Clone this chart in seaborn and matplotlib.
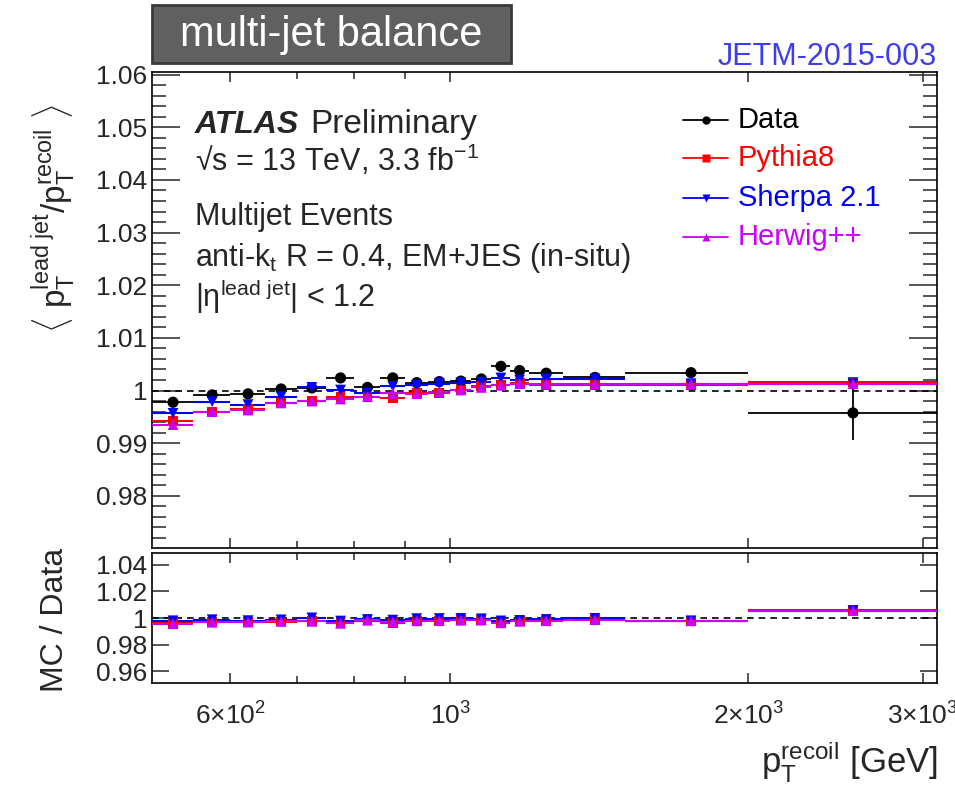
import numpy as np
import pandas as pd
import matplotlib
matplotlib.use("Agg")
import matplotlib.pyplot as plt
import seaborn as sns
from matplotlib.patches import Rectangle
from matplotlib.ticker import FixedLocator, FuncFormatter

# bin edges and centres in pT recoil [GeV]
bin_edges = [500, 550, 600, 650, 700, 750, 800, 850, 900, 950, 1000, 1050,
             1100, 1150, 1200, 1300, 1500, 2000, 3100]
pt_centres = [525, 575, 625, 675, 725, 775, 825, 875, 925, 975, 1025, 1075,
              1125, 1175, 1250, 1400, 1750, 2550]

# <pT lead jet / pT recoil>
data_vals = [0.99778, 0.99917, 0.99937, 1.0003, 1.0005, 1.0024, 1.0006, 1.0024,
             1.0015, 1.0017, 1.0018, 1.0022, 1.0046, 1.0038, 1.0033, 1.0025,
             1.0034, 0.99575]
data_err = [0.0003, 0.0003, 0.0003, 0.0003, 0.0003, 0.0003, 0.0003, 0.0003,
            0.0003, 0.0003, 0.0003, 0.0004, 0.0005, 0.0005, 0.0005, 0.0005,
            0.0009, 0.0051]
pythia_vals = [0.9943, 0.99587, 0.99651, 0.99759, 0.99797, 0.99873, 0.99873, 0.9985,
               0.9995, 0.9996, 1.0002, 1.0008, 1.0011, 1.0015, 1.0011, 1.0011,
               1.0011, 1.0017]
sherpa_vals = [0.99568, 0.9979, 0.99733, 0.99886, 1.0006, 1.0001, 0.9995, 1.0008,
               1.001, 1.0013, 1.0015, 1.0016, 1.0024, 1.002, 1.0022, 1.0022,
               1.0013, 1.0013]
herwig_vals = [0.99352, 0.996, 0.9963, 0.99765, 0.998, 0.9984, 0.99886, 0.9995,
               0.9994, 0.9997, 1.0001, 1.0006, 1.001, 1.0013, 1.0013, 1.0013,
               1.0013, 1.0013]

# MC / Data
ratio_pythia = [0.9965, 0.9967, 0.9971, 0.9973, 0.9975, 0.9963, 0.9981, 0.9961,
                0.9980, 0.9979, 0.9984, 0.9986, 0.9965, 0.9977, 0.9978, 0.9986,
                0.9977, 1.0060]
ratio_sherpa = [0.9979, 0.9987, 0.9980, 0.9986, 1.0001, 0.9977, 0.9989, 0.9984,
                0.9995, 0.9996, 0.9997, 0.9994, 0.9978, 0.9982, 0.9989, 0.9997,
                0.9979, 1.0056]
ratio_herwig = [0.9957, 0.9968, 0.9969, 0.9974, 0.9975, 0.9960, 0.9983, 0.9971,
                0.9979, 0.9980, 0.9983, 0.9984, 0.9964, 0.9975, 0.9980, 0.9988,
                0.9979, 1.0056]

sns.set_style("ticks")
plt.rcParams["font.family"] = ["Liberation Sans", "DejaVu Sans"]
plt.rcParams["mathtext.fontset"] = "custom"
plt.rcParams["mathtext.rm"] = "Liberation Sans"
plt.rcParams["mathtext.it"] = "Liberation Sans:italic"
plt.rcParams["mathtext.bf"] = "Liberation Sans:bold"

RED = "#ff0000"
BLUE = "#0000ff"
MAG = "#cc00ff"

edges = np.array(bin_edges, dtype=float)
x = np.array(pt_centres, dtype=float)
xerr = [x - edges[:-1], edges[1:] - x]

df = pd.DataFrame({"pt": x, "data": data_vals, "pythia": pythia_vals,
                   "sherpa": sherpa_vals, "herwig": herwig_vals,
                   "r_pythia": ratio_pythia, "r_sherpa": ratio_sherpa,
                   "r_herwig": ratio_herwig})

fig = plt.figure(figsize=(9.55, 7.87), dpi=100)
W, H = 955.0, 787.0
ax1 = fig.add_axes([152 / W, 1 - 548 / H, 785 / W, 476 / H])
ax2 = fig.add_axes([152 / W, 1 - 683 / H, 785 / W, 130 / H])

mc = [("pythia", RED, "s", 50), ("sherpa", BLUE, "v", 60), ("herwig", MAG, "^", 60)]


def draw_series(ax, col, color, marker, size, z):
    ax.errorbar(df["pt"], df[col], xerr=xerr, fmt="none", ecolor=color,
                elinewidth=1.5, capsize=0, zorder=z)
    sns.scatterplot(x=df["pt"], y=df[col], ax=ax, marker=marker, s=size,
                    color=color, edgecolor="none", legend=False, zorder=z + 0.5)


# top panel
ax1.axhline(1.0, color="black", ls=(0, (4, 3)), lw=1.2, zorder=1)
ax1.errorbar(df["pt"], df["data"], xerr=xerr, yerr=data_err, fmt="none",
             ecolor="black", elinewidth=1.3, capsize=0, zorder=3)
sns.scatterplot(x=df["pt"], y=df["data"], ax=ax1, marker="o", s=65,
                color="black", edgecolor="none", legend=False, zorder=3.5)
for col, c, m, s in mc:
    draw_series(ax1, col, c, m, s, 4)

# bottom panel
ax2.axhline(1.0, color="black", ls=(0, (4, 3)), lw=1.2, zorder=1)
for col, c, m, s in mc:
    draw_series(ax2, "r_" + col, c, m, s, 4)

for ax in (ax1, ax2):
    ax.set_xscale("log")
    ax.set_xlim(500, 3100)
    ax.xaxis.set_major_locator(FixedLocator([600, 1000, 2000, 3000]))
    ax.xaxis.set_minor_locator(FixedLocator([700, 800, 900]))
    ax.tick_params(axis="x", which="major", direction="in", top=True,
                   bottom=True, length=7, width=1.1)
    ax.tick_params(axis="x", which="minor", direction="in", top=True,
                   bottom=True, length=5, width=1.1)
    ax.tick_params(axis="y", direction="in", left=True, right=True,
                   labelsize=19, width=1.1)
    for sp in ax.spines.values():
        sp.set_linewidth(1.2)
        sp.set_color("black")
    ax.set_xlabel("")
    ax.set_ylabel("")

ax1.set_ylim(0.9701, 1.0605)
ax1.set_yticks([0.98, 0.99, 1.0, 1.01, 1.02, 1.03, 1.04, 1.05, 1.06])
ax1.yaxis.set_minor_locator(FixedLocator(np.arange(0.972, 1.0605, 0.002)))
ax1.tick_params(axis="y", which="major", length=20)
ax1.tick_params(axis="y", which="minor", direction="in", left=True,
                right=True, length=10, width=1.1)
ax1.yaxis.set_major_formatter(FuncFormatter(lambda v, p: "%g" % round(v, 3)))
ax1.tick_params(axis="x", labelbottom=False)

ax2.set_ylim(0.951, 1.049)
ax2.set_yticks([0.96, 0.98, 1.0, 1.02, 1.04])
ax2.tick_params(axis="y", which="major", length=12)
ax2.yaxis.set_major_formatter(FuncFormatter(lambda v, p: "%g" % round(v, 3)))
ax2.set_xticklabels([r"$6{\times}10^{2}$", r"$10^{3}$", r"$2{\times}10^{3}$",
                     r"$3{\times}10^{3}$"], fontsize=19)
ax2.tick_params(axis="x", which="major", pad=14)

# axis titles
ax1.set_ylabel(r"$\langle\ \mathrm{p}_{\mathrm{T}}^{\mathrm{lead\ jet}}/"
               r"\mathrm{p}_{\mathrm{T}}^{\mathrm{recoil}}\ \rangle$", fontsize=24)
ax1.yaxis.set_label_coords(-0.094, 0.692)
ax2.set_ylabel("MC / Data", fontsize=23)
ax2.yaxis.set_label_coords(-0.104, 0.485)
fig.text(938 / W, 1 - 773 / H,
         r"$\mathrm{p}_{\mathrm{T}}^{\mathrm{recoil}}$ [GeV]", fontsize=25,
         ha="right", va="baseline")

# header box and note
fig.add_artist(Rectangle((152 / W, 1 - 63 / H), 359 / W, 58 / H,
                         transform=fig.transFigure, facecolor="#606060",
                         edgecolor="#3a3a3a", lw=2))
fig.text(331 / W, 1 - 35 / H, "multi-jet balance", fontsize=30, color="white",
         ha="center", va="center")
fig.text(937 / W, 1 - 57 / H, "JETM-2015-003", fontsize=22, color="#3d3df0",
         ha="right", va="center")

# ATLAS text block
tx = (195 - 152) / 785
ax1.text(tx, 0.872, "ATLAS", transform=ax1.transAxes, fontsize=23,
         fontweight="bold", style="italic", va="baseline")
ax1.text((310 - 152) / 785, 0.872, "Preliminary", transform=ax1.transAxes,
         fontsize=24, va="baseline")
ax1.text(tx, 0.791, r"√s = 13 TeV, 3.3 fb$^{\mathrm{-1}}$",
         transform=ax1.transAxes, fontsize=22, va="baseline")
ax1.text(tx, 0.6786, "Multijet Events", transform=ax1.transAxes, fontsize=22,
         va="baseline")
ax1.text(tx, 0.592, r"anti-k$_{\mathrm{t}}$ R = 0.4, EM+JES (in-situ)",
         transform=ax1.transAxes, fontsize=22, va="baseline")
ax1.text(tx, 0.507, r"|η$^{\mathrm{lead\ jet}}$| < 1.2",
         transform=ax1.transAxes, fontsize=22, va="baseline")

# legend, drawn by hand
leg_names = ["Data", "Pythia8", "Sherpa 2.1", "Herwig++"]
leg_colors = ["black", RED, BLUE, MAG]
leg_markers = ["o", "s", "v", "^"]
leg_y = [0.8992, 0.8193, 0.7353, 0.6534]
for name, c, m, yy in zip(leg_names, leg_colors, leg_markers, leg_y):
    ax1.plot([0.6764, 0.7338], [yy, yy], color=c, lw=1.3,
             transform=ax1.transAxes)
    ax1.plot([0.7057], [yy], marker=m, ms=6, color=c, mec="none",
             transform=ax1.transAxes)
    ax1.text(0.7465, yy, name, color=c, fontsize=21, va="center",
             transform=ax1.transAxes)

fig.savefig("out.png", dpi=100)
